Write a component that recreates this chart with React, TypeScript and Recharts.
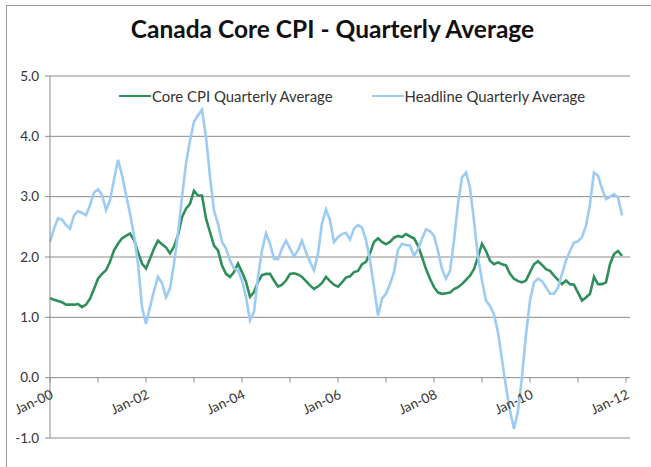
import { LineChart, Line, XAxis, YAxis, CartesianGrid } from "recharts";

// monthly values, Jan-00 .. Dec-11 (12 per row)
const CORE_CPI = [
  1.32, 1.29, 1.27, 1.25, 1.21, 1.21, 1.21, 1.22, 1.17, 1.21, 1.31, 1.47,
  1.64, 1.72, 1.78, 1.92, 2.11, 2.22, 2.31, 2.35, 2.39, 2.28, 2.08, 1.89,
  1.81, 1.97, 2.14, 2.27, 2.21, 2.16, 2.06, 2.17, 2.36, 2.66, 2.8, 2.88,
  3.1, 3.02, 3.02, 2.64, 2.41, 2.19, 2.11, 1.86, 1.72, 1.67, 1.75, 1.89,
  1.75, 1.59, 1.34, 1.42, 1.59, 1.7, 1.72, 1.72, 1.61, 1.51, 1.54, 1.61,
  1.72, 1.73, 1.71, 1.67, 1.6, 1.53, 1.47, 1.51, 1.57, 1.67, 1.6, 1.54,
  1.51, 1.58, 1.66, 1.68, 1.75, 1.77, 1.88, 1.92, 2.06, 2.25, 2.31, 2.25,
  2.21, 2.25, 2.32, 2.35, 2.33, 2.38, 2.34, 2.31, 2.19, 2.0, 1.8, 1.64,
  1.5, 1.41, 1.39, 1.4, 1.41, 1.47, 1.5, 1.55, 1.62, 1.69, 1.8, 2.0,
  2.22, 2.1, 1.94, 1.88, 1.91, 1.88, 1.86, 1.72, 1.64, 1.6, 1.58, 1.61,
  1.75, 1.88, 1.93, 1.87, 1.8, 1.77, 1.69, 1.62, 1.55, 1.61, 1.55, 1.54,
  1.41, 1.28, 1.33, 1.39, 1.67, 1.55, 1.55, 1.58, 1.88, 2.05, 2.1, 2.02,
];

const HEADLINE = [
  2.25, 2.47, 2.64, 2.62, 2.53, 2.47, 2.69, 2.76, 2.73, 2.69, 2.86, 3.07,
  3.12, 3.03, 2.78, 2.94, 3.28, 3.61, 3.36, 3.03, 2.72, 2.36, 1.89, 1.17,
  0.89, 1.17, 1.44, 1.67, 1.57, 1.33, 1.48, 1.89, 2.39, 2.99, 3.55, 3.93,
  4.24, 4.35, 4.44, 3.99, 3.33, 2.77, 2.55, 2.25, 2.14, 1.94, 1.81, 1.78,
  1.61, 1.34, 0.95, 1.09, 1.67, 2.11, 2.39, 2.22, 1.97, 1.96, 2.14, 2.27,
  2.14, 2.01, 2.11, 2.27, 2.08, 1.92, 1.78, 2.06, 2.56, 2.79, 2.61, 2.25,
  2.33, 2.38, 2.4, 2.29, 2.47, 2.53, 2.49, 2.28, 1.94, 1.5, 1.03, 1.31,
  1.39, 1.55, 1.75, 2.12, 2.22, 2.2, 2.19, 2.02, 2.13, 2.3, 2.46, 2.43,
  2.35, 2.1, 1.8, 1.64, 1.77, 2.27, 2.88, 3.32, 3.4, 3.15, 2.6, 2.0,
  1.61, 1.28, 1.19, 1.05, 0.75, 0.3, -0.15, -0.55, -0.85, -0.55, 0.01, 0.72,
  1.28, 1.58, 1.64, 1.6, 1.5, 1.39, 1.39, 1.49, 1.72, 1.94, 2.1, 2.24,
  2.26, 2.33, 2.52, 2.88, 3.4, 3.35, 3.13, 2.96, 3.0, 3.04, 2.99, 2.69,
];

const Y_TICKS = [-1, 0, 1, 2, 3, 4, 5];
const X_TICKS = [0, 12, 24, 36, 48, 60, 72, 84, 96, 108, 120, 132, 144];

const data = CORE_CPI.map((core, i) => ({ i, core, headline: HEADLINE[i] }));

const W = 651;
const H = 467;
const MARGIN = { top: 76, right: 21, bottom: 0, left: 10 };
const X_AXIS_H = 29;
const PLOT_H = H - MARGIN.top - MARGIN.bottom - X_AXIS_H;
// x axis crosses the value axis at 0
const ZERO_Y = MARGIN.top + (PLOT_H * (5 - 0)) / (5 - -1);

const GREEN = "#2f8f5b";
const BLUE = "#9ccbf3";
const AXIS = "#8a8a8a";
const FONT = "Lato, 'Open Sans', sans-serif";

const monthLabel = (t: number) => `Jan-${String(2000 + t / 12).slice(2)}`;

function MonthTick({ x, payload }: any) {
  const t = payload.value;
  return (
    <g>
      <line x1={x} x2={x} y1={ZERO_Y} y2={ZERO_Y + 5} stroke={AXIS} />
      {t % 24 === 0 && (
        <text
          transform={`translate(${x + 4},${ZERO_Y + 20}) rotate(-25)`}
          textAnchor="end"
          fontSize={13.5}
          fill="#333"
          fontFamily={FONT}
        >
          {monthLabel(t)}
        </text>
      )}
    </g>
  );
}

function LegendRow() {
  const items = [
    { label: "Core CPI Quarterly Average", color: GREEN },
    { label: "Headline Quarterly Average", color: BLUE },
  ];
  return (
    <div
      style={{
        position: "absolute",
        top: 87,
        left: 119,
        display: "flex",
        gap: 39,
        fontFamily: FONT,
        fontSize: 14.9,
        lineHeight: "18px",
      }}
    >
      {items.map((it) => (
        <div key={it.label} style={{ display: "flex", alignItems: "center" }}>
          <div style={{ width: 32, height: 2.5, background: it.color }} />
          <span style={{ color: "#333", marginLeft: 1 }}>{it.label}</span>
        </div>
      ))}
    </div>
  );
}

export default function App() {
  return (
    <div
      style={{
        position: "fixed",
        left: 0,
        top: 0,
        width: W,
        height: H,
        background: "#fff",
        overflow: "hidden",
      }}
    >
      <div
        style={{
          position: "absolute",
          left: 6,
          top: 5,
          width: 700,
          height: 500,
          border: "1px solid #9a9a9a",
        }}
      />
      <div
        style={{
          position: "absolute",
          top: 17,
          left: 0,
          width: W,
          textAlign: "center",
          fontFamily: FONT,
          fontWeight: 700,
          fontSize: 24.5,
          lineHeight: "24px",
          color: "#111",
          paddingLeft: 14,
          boxSizing: "border-box",
        }}
      >
        Canada Core CPI - Quarterly Average
      </div>
      <LineChart width={W} height={H} data={data} margin={MARGIN}>
        <CartesianGrid vertical={false} stroke={AXIS} />
        <XAxis
          dataKey="i"
          type="number"
          domain={[0, 145]}
          ticks={X_TICKS}
          height={X_AXIS_H}
          axisLine={false}
          tickLine={false}
          tick={<MonthTick />}
          interval={0}
        />
        <YAxis
          domain={[-1, 5]}
          ticks={Y_TICKS}
          width={40}
          tickFormatter={(v: number) => v.toFixed(1)}
          axisLine={{ stroke: AXIS }}
          tickLine={{ stroke: AXIS }}
          tickSize={5}
          tickMargin={6}
          tick={{ fontSize: 13.5, fill: "#333", fontFamily: FONT }}
        />
        <Line
          dataKey="core"
          name="Core CPI Quarterly Average"
          stroke={GREEN}
          strokeWidth={2.6}
          dot={false}
          isAnimationActive={false}
        />
        <Line
          dataKey="headline"
          name="Headline Quarterly Average"
          stroke={BLUE}
          strokeWidth={2.6}
          dot={false}
          isAnimationActive={false}
        />
      </LineChart>
      <LegendRow />
    </div>
  );
}
